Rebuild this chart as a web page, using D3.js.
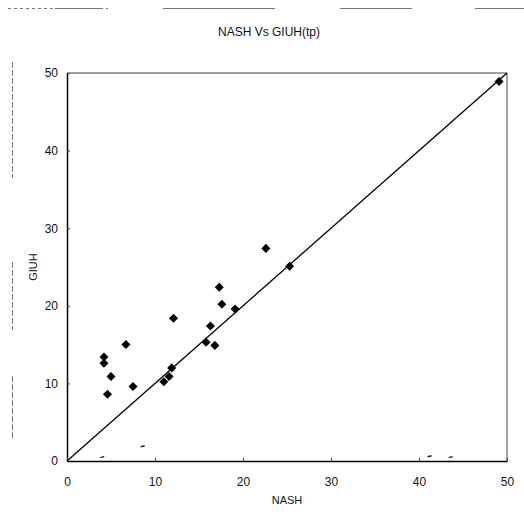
<!DOCTYPE html>
<html>
<head>
<meta charset="utf-8">
<script src="https://cdn.jsdelivr.net/npm/d3@7"></script>
<style>
  html, body { margin: 0; padding: 0; background: #fff; }
  svg { display: block; }
  text { font-family: "Liberation Sans", Arial, Helvetica, sans-serif; fill: #111; }
</style>
</head>
<body>
<svg id="chart" width="524" height="524"></svg>
<script>
// ---- data ----
const titleText = "NASH Vs GIUH(tp)";
const xLabel = "NASH";
const yLabel = "GIUH";
const xTicks = [0, 10, 20, 30, 40, 50];
const yTicks = [0, 10, 20, 30, 40, 50];
const nashValues = [4.2, 4.2, 5.0, 4.6, 6.7, 7.5, 11.0, 11.6, 11.9, 12.1, 15.8, 16.3, 16.8, 17.3, 17.6, 19.1, 22.6, 25.3, 49.1];
const giuhValues = [13.4, 12.6, 10.9, 8.6, 15.0, 9.6, 10.2, 10.9, 12.0, 18.4, 15.3, 17.4, 14.9, 22.4, 20.2, 19.6, 27.4, 25.1, 48.9];
const lineX = [0, 50];
const lineY = [0, 50];
// small scan specks inside the plot (data units)
const speckX = [4.0, 8.6, 41.2, 43.6];
const speckY = [0.5, 1.9, 0.6, 0.5];

(function () {
// ---- layout ----
const svg = d3.select("#chart");
const mLeft = 67, mRight = 507, mTop = 73, mBottom = 461;
const x = d3.scaleLinear().domain([0, 50]).range([mLeft, mRight]);
const y = d3.scaleLinear().domain([0, 50]).range([mBottom, mTop]);

// scan artifacts at page edges (decorative)
const deco = svg.append("g").attr("stroke", "#777").attr("stroke-width", 1).attr("fill", "none");
[[8, 55, 2], [55, 100, 1.2], [100, 108, 2], [163, 275, 1.2], [340, 412, 1.2], [475, 524, 1.2]].forEach(s => {
  deco.append("line").attr("x1", s[0]).attr("x2", s[1]).attr("y1", 8.5).attr("y2", 8.5)
    .attr("stroke-dasharray", s[2] === 2 ? "3,3" : null);
});
[[62, 178], [262, 330], [376, 440]].forEach(s => {
  deco.append("line").attr("x1", 12.5).attr("x2", 12.5).attr("y1", s[0]).attr("y2", s[1])
    .attr("stroke-dasharray", "6,2");
});

// title
svg.append("text").attr("x", 269).attr("y", 36).attr("text-anchor", "middle")
  .attr("font-size", 12).text(titleText);

// frame: top and right lighter
svg.append("line").attr("x1", x(0)).attr("x2", x(50)).attr("y1", y(50)).attr("y2", y(50))
  .attr("stroke", "#444").attr("stroke-width", 1);
svg.append("line").attr("x1", x(50)).attr("x2", x(50)).attr("y1", y(50)).attr("y2", y(0))
  .attr("stroke", "#444").attr("stroke-width", 1);

// axes
const yAxis = d3.axisLeft(y).tickValues(yTicks).tickSize(0).tickPadding(9).tickFormat(d3.format("d"));
const xAxis = d3.axisBottom(x).tickValues(xTicks).tickSize(0).tickPadding(16).tickFormat(d3.format("d"));
const gy = svg.append("g").attr("transform", `translate(${mLeft},0)`).call(yAxis);
const gx = svg.append("g").attr("transform", `translate(0,${mBottom})`).call(xAxis);
[gx, gy].forEach(g => {
  g.select(".domain").attr("stroke", "#000").attr("stroke-width", 1.5);
  g.selectAll("text").attr("font-size", 12).attr("fill", "#111")
    .attr("font-family", "Liberation Sans, Arial, sans-serif");
});
// small inward ticks
gy.selectAll(".tick").append("line").attr("x1", 0).attr("x2", 3).attr("stroke", "#444");
gx.selectAll(".tick").append("line").attr("y1", 0).attr("y2", -3).attr("stroke", "#444");

// axis titles
svg.append("text").attr("x", (mLeft + mRight) / 2).attr("y", 504).attr("text-anchor", "middle")
  .attr("font-size", 11).text(xLabel);
svg.append("text").attr("transform", `translate(37,${(mTop + mBottom) / 2}) rotate(-90)`)
  .attr("text-anchor", "middle").attr("font-size", 11).text(yLabel);

// 1:1 line
svg.append("path").datum(lineX.map((v, i) => [v, lineY[i]]))
  .attr("d", d3.line().x(d => x(d[0])).y(d => y(d[1])))
  .attr("stroke", "#000").attr("stroke-width", 1.3).attr("fill", "none");

// specks
svg.append("g").selectAll("line").data(speckX.map((v, i) => [v, speckY[i]])).join("line")
  .attr("x1", d => x(d[0]) - 2).attr("x2", d => x(d[0]) + 2)
  .attr("y1", d => y(d[1]) + 0.5).attr("y2", d => y(d[1]) - 0.5)
  .attr("stroke", "#222").attr("stroke-width", 1.5);

// points
const pts = nashValues.map((v, i) => [v, giuhValues[i]]);
svg.append("g").selectAll("path").data(pts).join("path")
  .attr("transform", d => `translate(${x(d[0])},${y(d[1])})`)
  .attr("d", d3.symbol(d3.symbolDiamond2, 52))
  .attr("fill", "#000");
})();
</script>
</body>
</html>
